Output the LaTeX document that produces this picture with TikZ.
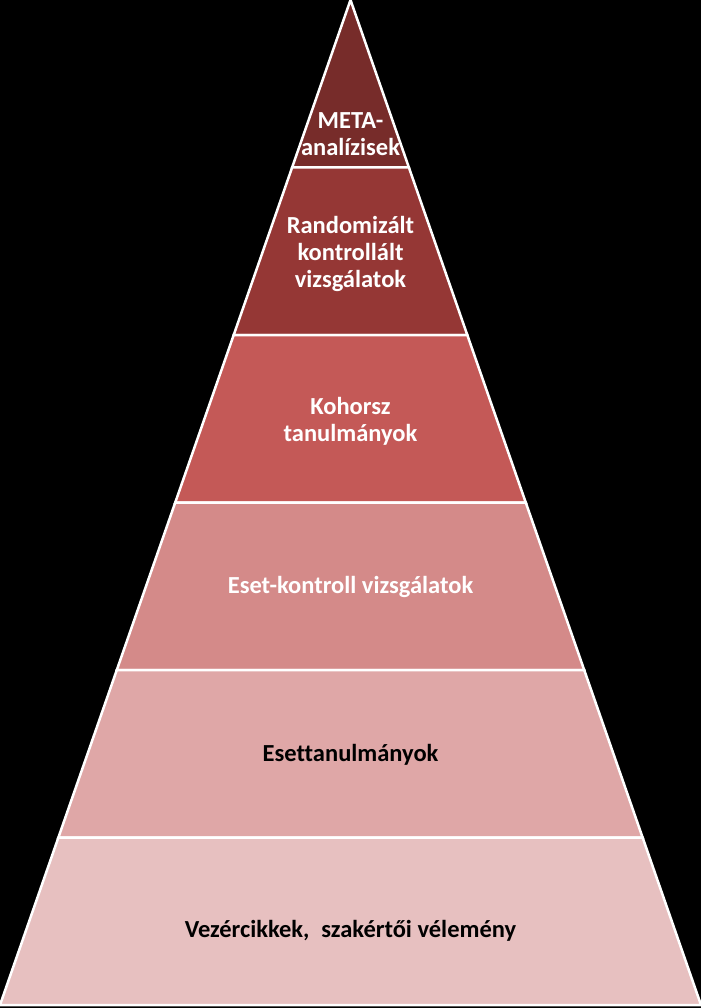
\documentclass[tikz,border=0pt]{standalone}
\usepackage{fontspec}
\setmainfont{Carlito}[Ligatures=NoCommon]
\usepackage{xcolor}
\definecolor{lay1}{HTML}{772C2A}
\definecolor{lay2}{HTML}{953735}
\definecolor{lay3}{HTML}{C45957}
\definecolor{lay4}{HTML}{D48A89}
\definecolor{lay5}{HTML}{DFA7A7}
\definecolor{lay6}{HTML}{E7C0C0}

\begin{document}
\begin{tikzpicture}[x=1pt, y=-1pt,
  layer/.style={draw=white, line width=2.5pt},
  lbl/.style={font=\bfseries\fontsize{24.5}{27.3}\selectfont, align=center}]
\fill[black] (0,0) rectangle (701,1008);
\useasboundingbox (0,0) rectangle (701,1008);
\filldraw[layer, fill=lay1] (350.5,0) -- (408.9,167.5) -- (292.1,167.5) -- cycle;
\filldraw[layer, fill=lay2] (292.1,167.5) -- (408.9,167.5) -- (467.3,335) -- (233.7,335) -- cycle;
\filldraw[layer, fill=lay3] (233.7,335) -- (467.3,335) -- (525.75,502.5) -- (175.25,502.5) -- cycle;
\filldraw[layer, fill=lay4] (175.25,502.5) -- (525.75,502.5) -- (584.2,670) -- (116.8,670) -- cycle;
\filldraw[layer, fill=lay5] (116.8,670) -- (584.2,670) -- (642.6,837.5) -- (58.4,837.5) -- cycle;
\filldraw[layer, fill=lay6] (58.4,837.5) -- (642.6,837.5) -- (701,1005) -- (0,1005) -- cycle;
\node[lbl, white] (meta) at (350.5,134) {META-\\analízisek};
\node[lbl, white] (rct) at (350.5,254) {Randomizált\\kontrollált\\vizsgálatok};
\node[lbl, white] (kohorsz) at (350.5,421) {Kohorsz\\tanulmányok};
\node[lbl, white] (esetkontroll) at (350.5,587) {Eset-kontroll vizsgálatok};
\node[lbl, black] (esettan) at (350.5,755) {Esettanulmányok};
\node[lbl, black] (vezer) at (350.5,931) {Vezércikkek,\hspace{0.48em}szakértői vélemény};
\end{tikzpicture}
\end{document}
